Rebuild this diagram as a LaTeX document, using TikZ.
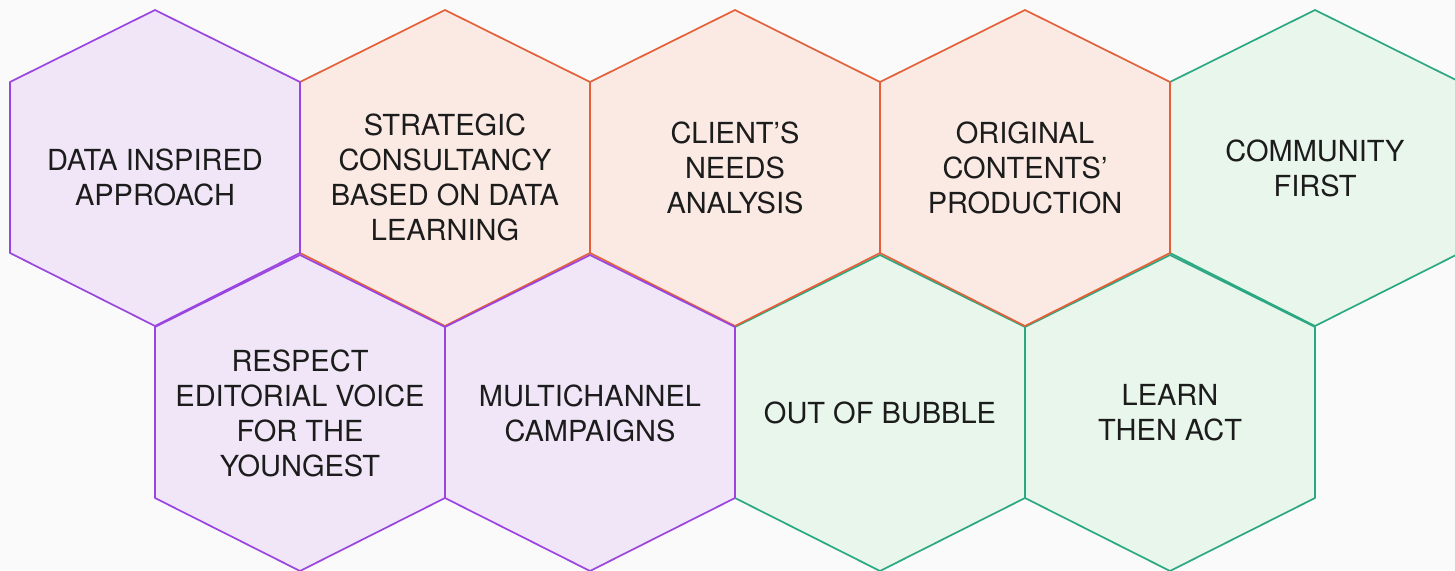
\documentclass[tikz,border=0pt]{standalone}
\usepackage{fontspec}
\setmainfont{TeX Gyre Heros}

\definecolor{paper}{HTML}{FAFAFA}
\definecolor{ink}{HTML}{1C1C1C}
\definecolor{violet}{HTML}{9A45E0}
\definecolor{violetfill}{HTML}{F0E6F7}
\definecolor{coral}{HTML}{E3603A}
\definecolor{coralfill}{HTML}{FAEAE3}
\definecolor{mint}{HTML}{2BA882}
\definecolor{mintfill}{HTML}{E8F6EB}

\tikzset{
  violethex/.style={draw=violet, fill=violetfill, line width=1.7pt, line join=round},
  coralhex/.style={draw=coral, fill=coralfill, line width=1.7pt, line join=round},
  minthex/.style={draw=mint, fill=mintfill, line width=1.7pt, line join=round},
  hextext/.style={align=center, inner sep=0pt, text=ink, font=\HEXFONT},
  hexagon/.style={insert path={+(0pt, 158pt) -- +(145pt, 86pt) -- +(145pt, -85pt)
    -- +(0pt, -158pt) -- +(-145pt, -85pt) -- +(-145pt, 86pt) -- cycle}}
}

\newcommand\HEXFONT{\fontsize{29pt}{35pt}\selectfont}

\begin{document}
\begin{tikzpicture}

  \newcommand\X{290pt}
  \newcommand\HALF{145pt}
  \newcommand\Y{-245pt}

  \useasboundingbox[fill=paper] (-155pt, 168pt) rectangle (1300pt, -402pt);

  % green cells first, the coral and violet edges lie over them
  \draw[minthex] (4*\X, 0) node[hextext](community){COMMUNITY\\FIRST} [hexagon];
  \draw[minthex] (2*\X+\HALF, \Y) node[hextext](bubble){OUT OF BUBBLE} [hexagon];
  \draw[minthex] (3*\X+\HALF, \Y) node[hextext](learn){LEARN\\THEN ACT} [hexagon];

  \draw[coralhex] (\X, 0) node[hextext, yshift=-9pt](strategic){STRATEGIC\\CONSULTANCY\\BASED ON DATA\\LEARNING} [hexagon];
  \draw[coralhex] (2*\X, 0) node[hextext](client){CLIENT’S\\NEEDS\\ANALYSIS} [hexagon];
  \draw[coralhex] (3*\X, 0) node[hextext](original){ORIGINAL\\CONTENTS’\\PRODUCTION} [hexagon];

  \draw[violethex] (0, 0) node[hextext, yshift=-9pt](data){DATA INSPIRED\\APPROACH} [hexagon];
  \draw[violethex] (\HALF, \Y) node[hextext](respect){RESPECT\\EDITORIAL VOICE\\FOR THE\\YOUNGEST} [hexagon];
  \draw[violethex] (\X+\HALF, \Y) node[hextext](multichannel){MULTICHANNEL\\CAMPAIGNS} [hexagon];

\end{tikzpicture}
\end{document}
